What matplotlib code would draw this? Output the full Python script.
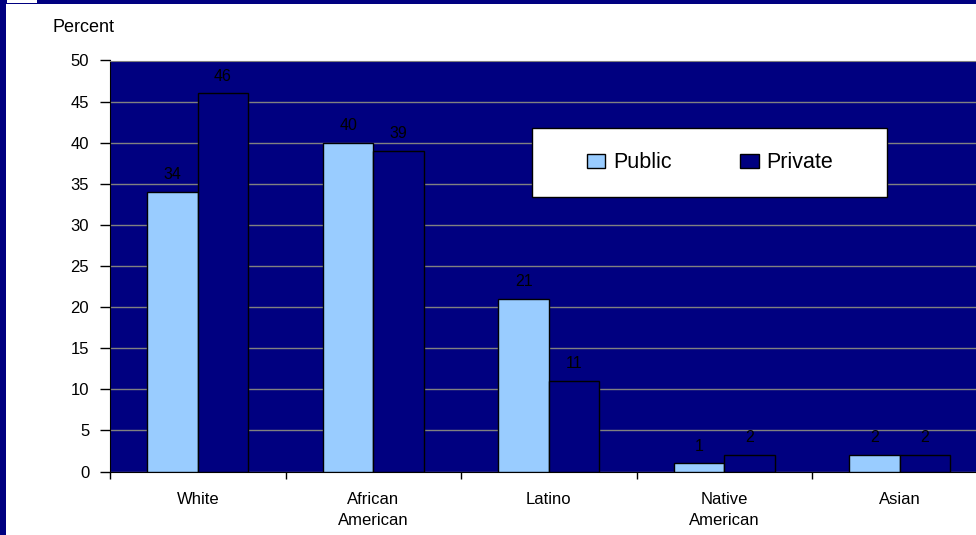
import matplotlib.pyplot as plt
from matplotlib.patches import Rectangle
import numpy as np

plt.rcParams['font.family'] = ['Liberation Sans', 'DejaVu Sans']

categories = ['White', 'African\nAmerican', 'Latino', 'Native\nAmerican', 'Asian']
public = [34, 40, 21, 1, 2]
private = [46, 39, 11, 2, 2]
y_ticks = [0, 5, 10, 15, 20, 25, 30, 35, 40, 45, 50]

W, H = 976, 535
fig = plt.figure(figsize=(W / 100, H / 100), dpi=100)
fig.patch.set_facecolor('white')

# axes runs a little past the right edge, like the cropped slide
ax = fig.add_axes([110 / W, 1 - 471.5 / H, 877.5 / W, 411 / H])
ax.set_facecolor('#000080')

x = np.arange(len(categories)) + 0.5
bw = 0.287
b1 = ax.bar(x - bw / 2, public, bw, color='#99CCFF', edgecolor='black', linewidth=1, zorder=3, label='Public')
b2 = ax.bar(x + bw / 2, private, bw, color='#000080', edgecolor='black', linewidth=1, zorder=3, label='Private')
ax.bar_label(b1, padding=7, fontsize=11.5, color='black')
ax.bar_label(b2, padding=7, fontsize=11.5, color='black')

ax.set_xlim(0, len(categories))
ax.set_ylim(0, 50)
ax.set_yticks(y_ticks)
ax.tick_params(axis='y', direction='out', length=7, width=1, pad=8, labelsize=12)
ax.set_xticks(np.arange(len(categories) + 1))
ax.set_xticklabels([])
ax.set_xticks(x, minor=True)
ax.set_xticklabels(categories, minor=True, linespacing=1.45)
ax.tick_params(axis='x', which='major', direction='out', length=5, width=1)
ax.tick_params(axis='x', which='minor', length=0, pad=15, labelsize=12)

ax.grid(axis='y', color='#808080', linewidth=1, zorder=1)
ax.set_axisbelow(True)
ax.spines['top'].set_color('#808080')
ax.spines['right'].set_visible(False)
ax.spines['left'].set_color('black')
ax.spines['bottom'].set_color('black')

fig.text(53 / W, 1 - 32 / H, 'Percent', fontsize=13, ha='left', va='baseline')

# legend box
ax.add_patch(Rectangle((532 / W, 1 - 197 / H), 355 / W, 69 / H, transform=fig.transFigure,
                       facecolor='white', edgecolor='black', linewidth=1, clip_on=False, zorder=4))
ax.legend(loc='center', bbox_to_anchor=(710 / W, 1 - 163 / H), bbox_transform=fig.transFigure,
          ncol=2, frameon=False, fontsize=15.5, handlelength=0.85, handleheight=0.65,
          handletextpad=0.35, columnspacing=3.2)

# slide border
fig.patches.append(Rectangle((0, 0), 6 / W, 1, transform=fig.transFigure, facecolor='#000080', edgecolor='none'))
fig.patches.append(Rectangle((0, 1 - 4 / H), 1, 4 / H, transform=fig.transFigure, facecolor='#000080', edgecolor='none'))
fig.patches.append(Rectangle((7 / W, 1 - 3 / H), 30 / W, 3 / H, transform=fig.transFigure, facecolor='white', edgecolor='none'))

fig.savefig('out.png', dpi=100)
